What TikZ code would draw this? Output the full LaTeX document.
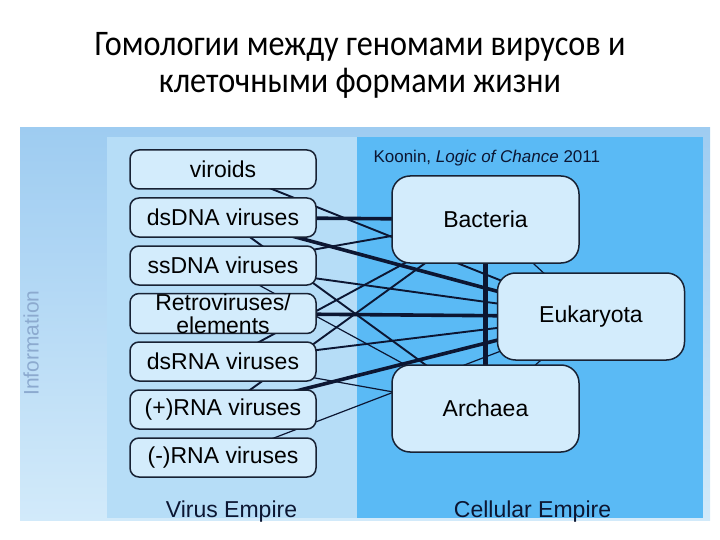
\documentclass[tikz,border=0pt]{standalone}
\usepackage{fontspec}
\setmainfont{Liberation Sans}
\newfontfamily\titlefont[FakeStretch=0.895]{Carlito}
\usetikzlibrary{positioning}
\definecolor{panelout}{RGB}{158,204,241}
\definecolor{panelfade}{RGB}{210,234,250}
\definecolor{viruspanel}{RGB}{182,221,247}
\definecolor{cellpanel}{RGB}{90,186,245}
\definecolor{boxfill}{RGB}{211,236,252}
\definecolor{boxline}{RGB}{24,34,52}
\definecolor{linkblue}{RGB}{12,22,50}
\definecolor{infotext}{RGB}{140,170,207}
\pgfdeclarelayer{back}
\pgfdeclarelayer{links}
\pgfsetlayers{back,links,main}
\tikzset{
  virbox/.style={draw=boxline,fill=boxfill,line width=1.5pt,rounded corners=9pt,
    minimum width=186pt,minimum height=39pt,inner sep=0pt,align=center,
    font=\fontsize{23}{23}\selectfont},
  cellbox/.style={virbox,rounded corners=18pt,minimum width=187pt,minimum height=87pt},
  thinlink/.style={draw=linkblue,line width=1.2pt},
  midlink/.style={draw=linkblue,line width=1.9pt},
  thicklink/.style={draw=linkblue,line width=3.6pt},
}

\begin{document}
\begin{tikzpicture}[x=1pt,y=-1pt]
\useasboundingbox (0,0) rectangle (720,540);
\node[font=\titlefont\fontsize{36}{37}\selectfont,align=center] (title) at (360,65.5)
  {Гомологии между геномами вирусов и\\клеточными формами жизни};
% panels
\begin{pgfonlayer}{back}
\shade[top color=panelout,bottom color=panelfade] (20,128) rectangle (710,520);
\fill[viruspanel] (107,137) rectangle (357,518);
\fill[cellpanel] (357,137) rectangle (703,518);
\end{pgfonlayer}
\node[rotate=90,text=infotext,font=\fontsize{21}{21}\selectfont] (info) at (31,343) {Information};
\node[anchor=base west,font=\fontsize{17}{17}\selectfont,text=linkblue] (cite) at (370,163)
  {Koonin, \textit{Logic of Chance} 2011};
\node[anchor=base,font=\fontsize{23}{23}\selectfont,text=linkblue] (virlabel) at (231.5,517) {Virus Empire};
\node[anchor=base,font=\fontsize{23}{23}\selectfont,text=linkblue] (celllabel) at (532.5,517) {Cellular Empire};
% virus groups
\node[virbox] (viroids) at (223,169.5) {viroids};
\node[virbox] (dsdna) at (223,217.5) {dsDNA viruses};
\node[virbox] (ssdna) at (223,265.5) {ssDNA viruses};
\node[virbox] (retro) at (223,313.5) {Retroviruses/\\elements};
\node[virbox] (dsrna) at (223,361.5) {dsRNA viruses};
\node[virbox] (plusrna) at (223,409.5) {(+)RNA viruses};
\node[virbox] (minusrna) at (223,457.5) {(-)RNA viruses};
% cellular domains
\node[cellbox] (bact) at (485.5,219.5) {Bacteria};
\node[cellbox] (euk) at (591,316.5) {Eukaryota};
\node[cellbox] (arch) at (485.5,408.5) {Archaea};
% homologies
\begin{pgfonlayer}{links}
\draw[midlink] (viroids.center) -- (euk.center);
\draw[thicklink] (dsdna.center) -- (bact.center);
\draw[thicklink] (dsdna.center) -- (euk.center);
\draw[midlink] (dsdna.center) -- (arch.center);
\draw[midlink] (ssdna.center) -- (bact.center);
\draw[midlink] (ssdna.center) -- (euk.center);
\draw[thinlink] (ssdna.center) -- (arch.center);
\draw[thicklink] (retro.center) -- (euk.center);
\draw[midlink] (dsrna.center) -- (bact.center);
\draw[midlink] (dsrna.center) -- (euk.center);
\draw[thinlink] (dsrna.center) -- (arch.center);
\draw[midlink] (plusrna.center) -- (bact.center);
\draw[thicklink] (plusrna.center) -- (euk.center);
\draw[thinlink] (minusrna.center) -- (euk.center);
\draw[thinlink] (bact.center) -- (euk.center);
\draw[thinlink] (arch.center) -- (euk.center);
\draw[draw=linkblue,line width=5pt] (bact.center) -- (arch.center);
\end{pgfonlayer}
\end{tikzpicture}
\end{document}
